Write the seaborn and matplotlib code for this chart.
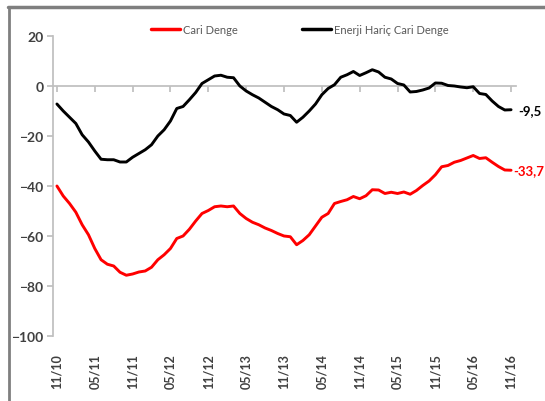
import matplotlib.pyplot as plt
import pandas as pd
import seaborn as sns
from matplotlib.lines import Line2D

# monthly values, 11/10 .. 11/16
months = pd.period_range("2010-11", "2016-11", freq="M")
cari_denge = [
    -40, -44, -47, -50.5, -55.5, -59.5, -65, -69.5, -71.3, -72,
    -74.5, -75.7, -75.2, -74.4, -74, -72.5, -69.5, -67.5, -65, -61,
    -60, -57.3, -54, -51, -49.8, -48.3, -48, -48.3, -48, -51,
    -53, -54.5, -55.5, -56.8, -57.8, -59, -60, -60.3, -63.5, -61.8,
    -59.5, -56, -52.5, -51, -47, -46.2, -45.5, -44.2, -45.1, -43.9,
    -41.5, -41.6, -43, -42.5, -43, -42.4, -43.3, -41.8, -39.8, -38,
    -35.5, -32.3, -31.8, -30.5, -29.8, -28.8, -27.8, -29, -28.7, -30.5,
    -32.2, -33.6, -33.7,
]
enerji_haric = [
    -7.2, -10, -12.5, -15, -19.5, -22.4, -26, -29.3, -29.5, -29.5,
    -30.4, -30.4, -28.5, -27, -25.5, -23.5, -20, -17.5, -14, -9,
    -8.2, -5.5, -2.6, 1, 2.5, 4, 4.3, 3.5, 3.3, 0,
    -2, -3.5, -4.8, -6.5, -8.2, -9.5, -11.2, -11.8, -14.5, -12.5,
    -10, -7.2, -3.5, -1, 0.5, 3.5, 4.5, 5.8, 4.2, 5.3,
    6.5, 5.6, 3.5, 2.8, 1, 0.4, -2.4, -2.2, -1.6, -0.8,
    1.2, 1.1, 0.2, 0, -0.4, -0.7, -0.3, -3, -3.4, -6,
    -8.2, -9.6, -9.5,
]
tick_labels = [m.strftime("%m/%y") for m in months[::6]]

df = pd.DataFrame({
    "ay": range(len(months)),
    "Cari Denge": cari_denge,
    "Enerji Hariç Cari Denge": enerji_haric,
})
long_df = df.melt(id_vars="ay", var_name="seri", value_name="deger")

sns.set_theme(style="white")
plt.rcParams["font.family"] = ["Lato", "DejaVu Sans"]

fig = plt.figure(figsize=(5.45, 4.02), dpi=100)
ax = fig.add_axes([0.0975, 0.1617, 0.8495, 0.7463])

sns.lineplot(data=long_df, x="ay", y="deger", hue="seri",
             palette=["#ff0000", "#000000"], linewidth=2.1, ax=ax)

ax.set_xlim(-0.6, 72.8)
ax.set_ylim(-100, 20)
ax.set_yticks(range(-100, 21, 20))
ax.set_xlabel("")
ax.set_ylabel("")

gray = "#bfbfbf"
for s in ["top", "right", "bottom"]:
    ax.spines[s].set_visible(False)
ax.spines["left"].set_color(gray)
ax.tick_params(axis="y", left=True, length=4, color=gray, labelsize=10,
               labelcolor="#404040", pad=3)
for t in ax.get_yticklabels():
    t.set_fontweight("bold")

# x axis line crosses at 0, labels at the bottom
ax.set_xticks(range(0, len(months), 6))
ax.set_xticklabels(tick_labels, rotation=90, fontsize=9, fontweight="bold",
                   color="#404040")
ax.tick_params(axis="x", bottom=False, pad=6)
zero_ax = ax.secondary_xaxis(100 / 120)
zero_ax.set_xticks(range(0, len(months), 6))
zero_ax.set_xticklabels([])
for sp in zero_ax.spines.values():
    sp.set_color(gray)
zero_ax.tick_params(axis="x", length=4, color=gray, direction="in")

ax.text(73.2, enerji_haric[-1], "-9,5", color="black", fontsize=9.5,
        fontweight="bold", va="center", ha="left", clip_on=False)
ax.text(72.3, cari_denge[-1], "-33,7", color="#ff0000", fontsize=9.5,
        fontweight="bold", va="center", ha="left", clip_on=False)

leg = ax.legend(loc="center", bbox_to_anchor=(0.55, 0.925),
                bbox_transform=fig.transFigure, ncol=2, frameon=False,
                fontsize=8, handlelength=2.6, handletextpad=0.3,
                columnspacing=5.8)
for t in leg.get_texts():
    t.set_color("#595959")
for h in leg.get_lines():
    h.set_linewidth(2.5)

# frame pieces (top and left) of the pasted picture
fig.add_artist(Line2D([8 / 545, 1], [1 - 7.5 / 402, 1 - 7.5 / 402],
                      transform=fig.transFigure, color="#7f7f7f", lw=2.5))
fig.add_artist(Line2D([9 / 545, 9 / 545], [0, 1 - 7.5 / 402],
                      transform=fig.transFigure, color="#7f7f7f", lw=2))

fig.savefig("out.png", dpi=100)
